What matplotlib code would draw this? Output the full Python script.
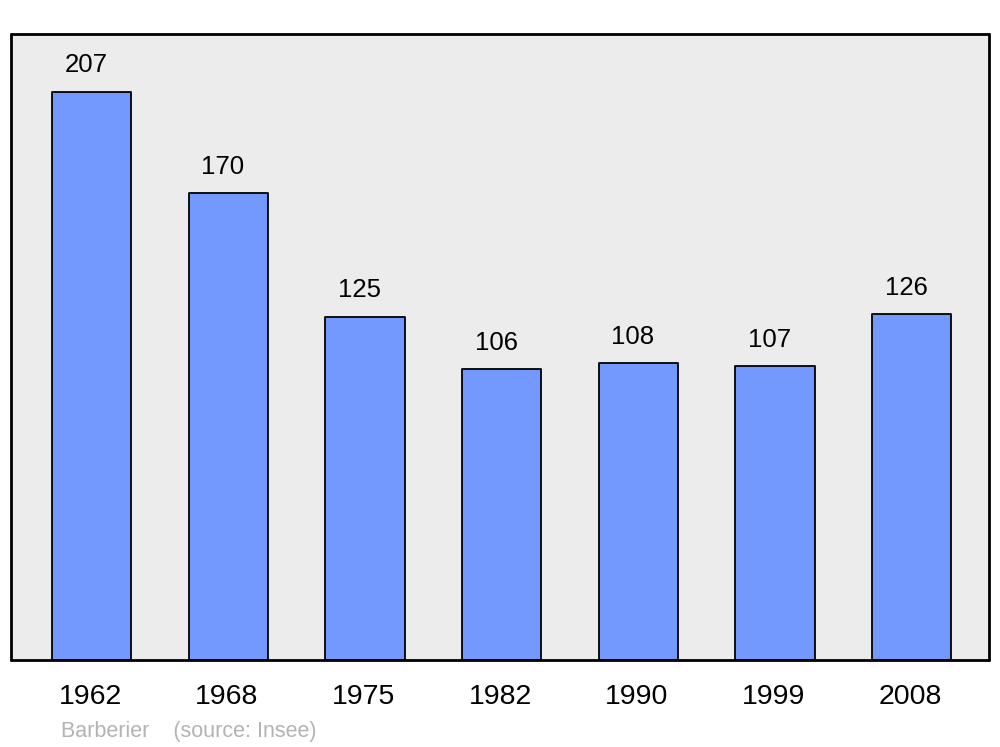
import matplotlib
matplotlib.use("Agg")
from matplotlib import pyplot as plt

plt.rcParams['font.family'] = ['Liberation Sans', 'DejaVu Sans']

years = ["1962", "1968", "1975", "1982", "1990", "1999", "2008"]
population = [207, 170, 125, 106, 108, 107, 126]

fig = plt.figure(figsize=(10, 7.47), dpi=100)
ax = fig.add_axes([0.011, 0.1165, 0.978, 0.838])
ax.set_facecolor('#ececec')

x = list(range(len(years)))
bars = ax.bar(x, population, width=0.58, color='#7399ff', edgecolor='black',
              linewidth=1.3, zorder=2)
for b in bars:
    b.set_joinstyle('round')

ax.set_xlim(-0.59, 6.565)
ax.set_ylim(0, 228)
ax.set_yticks([])
ax.set_xticks([])

for s in ax.spines.values():
    s.set_linewidth(2)
    s.set_capstyle('round')

for i, v in enumerate(population):
    ax.annotate(str(v), (i, v), xytext=(-4, 19), textcoords='offset points',
                ha='center', va='center', fontsize=18.5)
    ax.annotate(years[i], (i, 0), xycoords=('data', 'axes fraction'),
                xytext=(-1, -27), textcoords='offset points',
                ha='center', va='center', fontsize=20.5)

fig.text(0.061, 1 - 731 / 747, "Barberier    (source: Insee)", color='#b3b3b3',
         fontsize=15.5, va='center', ha='left')

fig.savefig("out.png")
